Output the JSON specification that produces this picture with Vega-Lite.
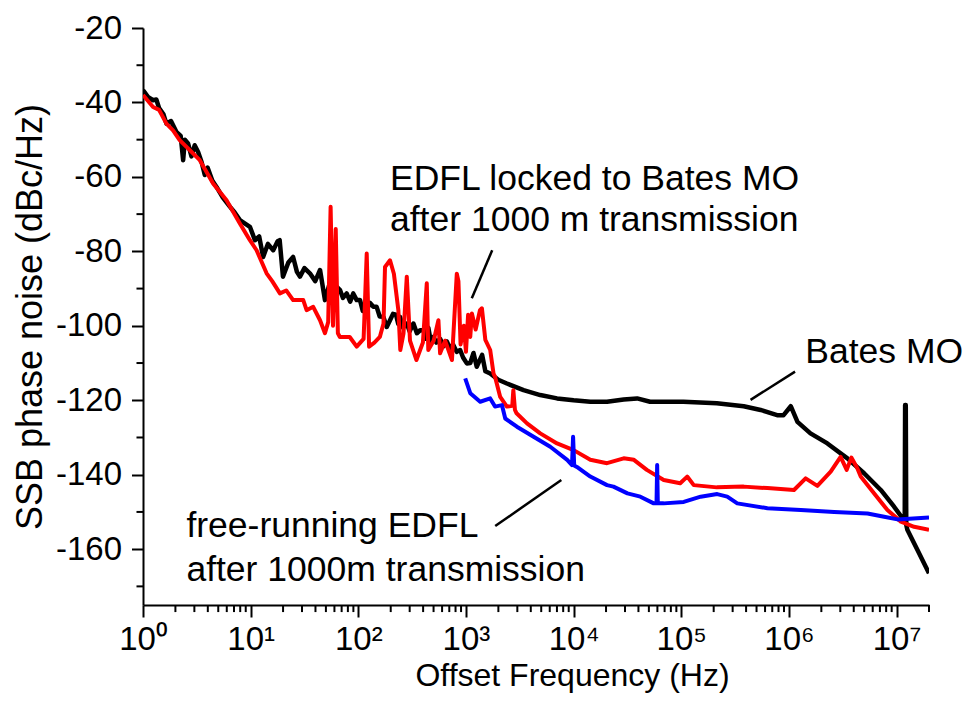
{
  "$schema": "https://vega.github.io/schema/vega-lite/v6.json",
  "width": 786,
  "height": 577,
  "autosize": {"type": "none"},
  "padding": {"left": 143, "top": 28, "right": 38, "bottom": 99},
  "background": "white",
  "config": {"view": {"stroke": null}, "font": "Liberation Sans"},
  "datasets": {
    "curves": [
      {"series":"bates","freq":1,"noise":-36.7},{"series":"bates","freq":1.12,"noise":-38.6},{"series":"bates","freq":1.24,"noise":-39.4},{"series":"bates","freq":1.33,"noise":-39.2},{"series":"bates","freq":1.41,"noise":-41.5},{"series":"bates","freq":1.55,"noise":-43.2},{"series":"bates","freq":1.65,"noise":-45.7},{"series":"bates","freq":1.82,"noise":-45.0},{"series":"bates","freq":2.04,"noise":-47.9},{"series":"bates","freq":2.24,"noise":-49},{"series":"bates","freq":2.36,"noise":-55.5},{"series":"bates","freq":2.45,"noise":-50},{"series":"bates","freq":2.62,"noise":-51},{"series":"bates","freq":2.82,"noise":-54.5},{"series":"bates","freq":3.02,"noise":-51.5},{"series":"bates","freq":3.25,"noise":-53.3},{"series":"bates","freq":3.5,"noise":-56},{"series":"bates","freq":3.75,"noise":-59.5},{"series":"bates","freq":3.98,"noise":-57.5},{"series":"bates","freq":4.4,"noise":-61},{"series":"bates","freq":4.82,"noise":-62.7},{"series":"bates","freq":5.5,"noise":-65.5},{"series":"bates","freq":6.41,"noise":-68},{"series":"bates","freq":7.08,"noise":-69.5},{"series":"bates","freq":7.94,"noise":-71.6},{"series":"bates","freq":9.84,"noise":-73.4},{"series":"bates","freq":10.96,"noise":-77},{"series":"bates","freq":12.0,"noise":-76},{"series":"bates","freq":13.06,"noise":-81.5},{"series":"bates","freq":14.45,"noise":-78},{"series":"bates","freq":16.2,"noise":-79.7},{"series":"bates","freq":17.8,"noise":-77.3},{"series":"bates","freq":18.6,"noise":-77},{"series":"bates","freq":19.95,"noise":-86.8},{"series":"bates","freq":22.4,"noise":-83},{"series":"bates","freq":24.8,"noise":-81.5},{"series":"bates","freq":26.9,"noise":-85.5},{"series":"bates","freq":28.7,"noise":-86.8},{"series":"bates","freq":31.6,"noise":-84.5},{"series":"bates","freq":35.5,"noise":-85.9},{"series":"bates","freq":39.8,"noise":-88},{"series":"bates","freq":44.1,"noise":-85},{"series":"bates","freq":49,"noise":-93.1},{"series":"bates","freq":53.7,"noise":-89},{"series":"bates","freq":58,"noise":-91.5},{"series":"bates","freq":63.1,"noise":-89.5},{"series":"bates","freq":67.6,"noise":-90.4},{"series":"bates","freq":72,"noise":-92.5},{"series":"bates","freq":78,"noise":-91.3},{"series":"bates","freq":84,"noise":-93.5},{"series":"bates","freq":89.7,"noise":-91.3},{"series":"bates","freq":96.6,"noise":-93.1},{"series":"bates","freq":103.7,"noise":-93.1},{"series":"bates","freq":110,"noise":-96},{"series":"bates","freq":119.7,"noise":-95.8},{"series":"bates","freq":128,"noise":-93.8},{"series":"bates","freq":138,"noise":-94.9},{"series":"bates","freq":148,"noise":-94.9},{"series":"bates","freq":158,"noise":-97.5},{"series":"bates","freq":171,"noise":-97.6},{"series":"bates","freq":183.7,"noise":-100.3},{"series":"bates","freq":197,"noise":-98.5},{"series":"bates","freq":210,"noise":-96.8},{"series":"bates","freq":224,"noise":-97},{"series":"bates","freq":235,"noise":-99.5},{"series":"bates","freq":244,"noise":-97.6},{"series":"bates","freq":260,"noise":-100.5},{"series":"bates","freq":282,"noise":-99.4},{"series":"bates","freq":300,"noise":-101.5},{"series":"bates","freq":325,"noise":-99.4},{"series":"bates","freq":350,"noise":-102},{"series":"bates","freq":375,"noise":-101.2},{"series":"bates","freq":403,"noise":-101.2},{"series":"bates","freq":420,"noise":-103.5},{"series":"bates","freq":447,"noise":-100.5},{"series":"bates","freq":470,"noise":-104},{"series":"bates","freq":499,"noise":-103},{"series":"bates","freq":530,"noise":-104.5},{"series":"bates","freq":575,"noise":-103.5},{"series":"bates","freq":620,"noise":-105.5},{"series":"bates","freq":664,"noise":-104.2},{"series":"bates","freq":710,"noise":-106},{"series":"bates","freq":759,"noise":-105},{"series":"bates","freq":820,"noise":-107},{"series":"bates","freq":883,"noise":-106.5},{"series":"bates","freq":940,"noise":-108.5},{"series":"bates","freq":1019,"noise":-110.1},{"series":"bates","freq":1096,"noise":-110},{"series":"bates","freq":1175,"noise":-107.3},{"series":"bates","freq":1259,"noise":-111},{"series":"bates","freq":1413,"noise":-107.8},{"series":"bates","freq":1514,"noise":-112.2},{"series":"bates","freq":1679,"noise":-112.8},{"series":"bates","freq":1995,"noise":-114.5},{"series":"bates","freq":2399,"noise":-115.5},{"series":"bates","freq":3428,"noise":-117.3},{"series":"bates","freq":4898,"noise":-118.6},{"series":"bates","freq":7015,"noise":-119.5},{"series":"bates","freq":10000,"noise":-120},{"series":"bates","freq":14290,"noise":-120.4},{"series":"bates","freq":20420,"noise":-120.4},{"series":"bates","freq":29170,"noise":-119.8},{"series":"bates","freq":38900,"noise":-119.5},{"series":"bates","freq":51290,"noise":-120.4},{"series":"bates","freq":104700,"noise":-120.4},{"series":"bates","freq":213800,"noise":-120.8},{"series":"bates","freq":380200,"noise":-121.6},{"series":"bates","freq":545800,"noise":-122.6},{"series":"bates","freq":776200,"noise":-124},{"series":"bates","freq":891300,"noise":-124},{"series":"bates","freq":1040000,"noise":-121.6},{"series":"bates","freq":1200000,"noise":-125.8},{"series":"bates","freq":1585000,"noise":-128.9},{"series":"bates","freq":2275000,"noise":-131.6},{"series":"bates","freq":3490000,"noise":-135.6},{"series":"bates","freq":4990000,"noise":-139.6},{"series":"bates","freq":7130000,"noise":-144.1},{"series":"bates","freq":9480000,"noise":-148.6},{"series":"bates","freq":11350000,"noise":-151.7},{"series":"bates","freq":11900000,"noise":-152.3},{"series":"bates","freq":12000000,"noise":-121.3},{"series":"bates","freq":12170000,"noise":-121.3},{"series":"bates","freq":12300000,"noise":-153.5},{"series":"bates","freq":12590000,"noise":-154.8},{"series":"bates","freq":15630000,"noise":-160.2},{"series":"bates","freq":20000000,"noise":-166.5},

      {"series":"locked","freq":1,"noise":-38},{"series":"locked","freq":1.24,"noise":-41.2},{"series":"locked","freq":1.41,"noise":-42},{"series":"locked","freq":1.65,"noise":-45.7},{"series":"locked","freq":1.9,"noise":-47.5},{"series":"locked","freq":2.19,"noise":-50.1},{"series":"locked","freq":2.72,"noise":-52.8},{"series":"locked","freq":3.37,"noise":-55.5},{"series":"locked","freq":4.48,"noise":-61.8},{"series":"locked","freq":5.97,"noise":-66.3},{"series":"locked","freq":7.94,"noise":-72.5},{"series":"locked","freq":9.84,"noise":-77},{"series":"locked","freq":11.35,"noise":-79.7},{"series":"locked","freq":14.06,"noise":-85.9},{"series":"locked","freq":15.85,"noise":-88},{"series":"locked","freq":18.7,"noise":-91.3},{"series":"locked","freq":21.4,"noise":-90.5},{"series":"locked","freq":24.8,"noise":-93.1},{"series":"locked","freq":30.8,"noise":-93.1},{"series":"locked","freq":33.1,"noise":-95.8},{"series":"locked","freq":38.1,"noise":-94.9},{"series":"locked","freq":44.1,"noise":-98.5},{"series":"locked","freq":49,"noise":-102},{"series":"locked","freq":52.5,"noise":-99},{"series":"locked","freq":55.3,"noise":-68},{"series":"locked","freq":58.2,"noise":-100},{"series":"locked","freq":61.7,"noise":-74},{"series":"locked","freq":64.6,"noise":-102},{"series":"locked","freq":67.4,"noise":-103},{"series":"locked","freq":83.2,"noise":-103},{"series":"locked","freq":96.6,"noise":-105.6},{"series":"locked","freq":112,"noise":-103.5},{"series":"locked","freq":119.7,"noise":-80.6},{"series":"locked","freq":125.9,"noise":-105.6},{"series":"locked","freq":141,"noise":-104.5},{"series":"locked","freq":158.5,"noise":-103},{"series":"locked","freq":171.4,"noise":-99.4},{"series":"locked","freq":177,"noise":-84.2},{"series":"locked","freq":197,"noise":-82.4},{"series":"locked","freq":214,"noise":-86},{"series":"locked","freq":235.5,"noise":-95.8},{"series":"locked","freq":245.5,"noise":-106.5},{"series":"locked","freq":263,"noise":-102},{"series":"locked","freq":282,"noise":-86.8},{"series":"locked","freq":302,"noise":-104},{"series":"locked","freq":346.7,"noise":-109.2},{"series":"locked","freq":398,"noise":-104.5},{"series":"locked","freq":432.5,"noise":-88.6},{"series":"locked","freq":446.7,"noise":-106.5},{"series":"locked","freq":501,"noise":-104},{"series":"locked","freq":554.6,"noise":-98.5},{"series":"locked","freq":575,"noise":-107.4},{"series":"locked","freq":640,"noise":-104},{"series":"locked","freq":741,"noise":-109.2},{"series":"locked","freq":822,"noise":-86},{"series":"locked","freq":851,"noise":-88},{"series":"locked","freq":891,"noise":-105},{"series":"locked","freq":955,"noise":-100},{"series":"locked","freq":1000,"noise":-107},{"series":"locked","freq":1047,"noise":-97},{"series":"locked","freq":1096,"noise":-103},{"series":"locked","freq":1135,"noise":-96.7},{"series":"locked","freq":1230,"noise":-101},{"series":"locked","freq":1349,"noise":-95.8},{"series":"locked","freq":1406,"noise":-95.3},{"series":"locked","freq":1514,"noise":-103.8},{"series":"locked","freq":1679,"noise":-106.5},{"series":"locked","freq":1803,"noise":-112.8},{"series":"locked","freq":1862,"noise":-113.7},{"series":"locked","freq":2080,"noise":-119.1},{"series":"locked","freq":2399,"noise":-121.7},{"series":"locked","freq":2692,"noise":-121.5},{"series":"locked","freq":2754,"noise":-117.3},{"series":"locked","freq":2851,"noise":-122.6},{"series":"locked","freq":2951,"noise":-123.5},{"series":"locked","freq":3690,"noise":-126.2},{"series":"locked","freq":4898,"noise":-128.9},{"series":"locked","freq":7015,"noise":-131.6},{"series":"locked","freq":10000,"noise":-133.4},{"series":"locked","freq":14290,"noise":-136},{"series":"locked","freq":20420,"noise":-136.9},{"series":"locked","freq":29170,"noise":-135.6},{"series":"locked","freq":36300,"noise":-136},{"series":"locked","freq":47860,"noise":-138.7},{"series":"locked","freq":68710,"noise":-141.4},{"series":"locked","freq":97720,"noise":-142.3},{"series":"locked","freq":113500,"noise":-140.5},{"series":"locked","freq":130600,"noise":-142.8},{"series":"locked","freq":213800,"noise":-143.4},{"series":"locked","freq":380200,"noise":-143.2},{"series":"locked","freq":631000,"noise":-143.6},{"series":"locked","freq":1114000,"noise":-144.1},{"series":"locked","freq":1429000,"noise":-141},{"series":"locked","freq":1837000,"noise":-143},{"series":"locked","freq":2443000,"noise":-139.2},{"series":"locked","freq":3020000,"noise":-135.2},{"series":"locked","freq":3440000,"noise":-138.7},{"series":"locked","freq":3800000,"noise":-135.4},{"series":"locked","freq":4325000,"noise":-138.3},{"series":"locked","freq":4645000,"noise":-140.5},{"series":"locked","freq":6166000,"noise":-145},{"series":"locked","freq":8220000,"noise":-149.5},{"series":"locked","freq":10960000,"noise":-152.6},{"series":"locked","freq":14550000,"noise":-154},{"series":"locked","freq":20000000,"noise":-154.8},

      {"series":"free","freq":984,"noise":-114.1},{"series":"free","freq":1096,"noise":-118.1},{"series":"free","freq":1355,"noise":-120.4},{"series":"free","freq":1679,"noise":-119.5},{"series":"free","freq":1862,"noise":-121.7},{"series":"free","freq":2158,"noise":-121.3},{"series":"free","freq":2317,"noise":-124.9},{"series":"free","freq":2972,"noise":-127.1},{"series":"free","freq":4246,"noise":-129.8},{"series":"free","freq":6067,"noise":-132.5},{"series":"free","freq":8710,"noise":-136},{"series":"free","freq":9660,"noise":-137.4},{"series":"free","freq":9886,"noise":-129.8},{"series":"free","freq":10120,"noise":-137.5},{"series":"free","freq":10720,"noise":-137.9},{"series":"free","freq":14290,"noise":-140.5},{"series":"free","freq":20420,"noise":-142.8},{"series":"free","freq":23440,"noise":-143.2},{"series":"free","freq":31620,"noise":-145},{"series":"free","freq":41690,"noise":-145.9},{"series":"free","freq":55460,"noise":-147.7},{"series":"free","freq":58900,"noise":-147.7},{"series":"free","freq":59700,"noise":-137.4},{"series":"free","freq":60540,"noise":-147.7},{"series":"free","freq":68710,"noise":-147.7},{"series":"free","freq":105400,"noise":-147.3},{"series":"free","freq":151400,"noise":-145.9},{"series":"free","freq":215800,"noise":-145.2},{"series":"free","freq":267300,"noise":-145.9},{"series":"free","freq":331100,"noise":-147.7},{"series":"free","freq":631000,"noise":-149},{"series":"free","freq":1288000,"noise":-149.5},{"series":"free","freq":2630000,"noise":-150},{"series":"free","freq":5370000,"noise":-150.4},{"series":"free","freq":7660000,"noise":-151.3},{"series":"free","freq":10190000,"noise":-152},{"series":"free","freq":20000000,"noise":-151.5}
    ],
    "notes": [
      {"label":"EDFL locked to Bates MO","freq":197,"noise":-63.4},
      {"label":"after 1000 m transmission","freq":197,"noise":-74.6},
      {"label":"Bates MO","freq":1420000,"noise":-109.9},
      {"label":"free-running EDFL","freq":2.53,"noise":-156.6},
      {"label":"after 1000m transmission","freq":2.53,"noise":-168.5}
    ],
    "leaders": [
      {"f1":1133,"v1":-92.6,"f2":1753,"v2":-79.7},
      {"f1":440000,"v1":-119.9,"f2":1140000,"v2":-112.3},
      {"f1":1870,"v1":-153.8,"f2":7690,"v2":-141.4}
    ],
    "xminor": [
      {"freq":2},{"freq":3},{"freq":4},{"freq":5},{"freq":6},{"freq":7},{"freq":8},{"freq":9},
      {"freq":20},{"freq":30},{"freq":40},{"freq":50},{"freq":60},{"freq":70},{"freq":80},{"freq":90},
      {"freq":200},{"freq":300},{"freq":400},{"freq":500},{"freq":600},{"freq":700},{"freq":800},{"freq":900},
      {"freq":2000},{"freq":3000},{"freq":4000},{"freq":5000},{"freq":6000},{"freq":7000},{"freq":8000},{"freq":9000},
      {"freq":20000},{"freq":30000},{"freq":40000},{"freq":50000},{"freq":60000},{"freq":70000},{"freq":80000},{"freq":90000},
      {"freq":200000},{"freq":300000},{"freq":400000},{"freq":500000},{"freq":600000},{"freq":700000},{"freq":800000},{"freq":900000},
      {"freq":2000000},{"freq":3000000},{"freq":4000000},{"freq":5000000},{"freq":6000000},{"freq":7000000},{"freq":8000000},{"freq":9000000},
      {"freq":20000000}
    ],
    "yminor": [
      {"noise":-170},{"noise":-150},{"noise":-130},{"noise":-110},{"noise":-90},{"noise":-70},{"noise":-50},{"noise":-30}
    ]
  },
  "layer": [
    {
      "data": {"name": "curves"},
      "transform": [{"filter": "datum.series === 'bates'"}],
      "mark": {"type": "line", "color": "#000000", "strokeWidth": 4.5, "strokeJoin": "round", "clip": true},
      "encoding": {
        "x": {
          "field": "freq", "type": "quantitative",
          "scale": {"type": "log", "domain": [1, 20000000], "nice": false},
          "axis": {
            "title": "Offset Frequency (Hz)",
            "values": [1,10,100,1000,10000,100000,1000000,10000000],
            "labelExpr": "'10' + ['⁰','¹','²','³','⁴','⁵','⁶','⁷'][round(log(datum.value)/LN10)]",
            "tickSize": 12,
            "grid": false, "labelOverlap": false, "labelFlush": false,
            "domainColor": "#000000", "domainWidth": 2, "tickColor": "#000000", "tickWidth": 2,
            "labelFontSize": 33, "labelColor": "#000000", "labelPadding": 6, "labelFont": "Liberation Sans",
            "titleFontSize": 32, "titleFontWeight": "normal", "titleColor": "#000000", "titleFont": "Liberation Sans",
            "titleX": 429, "titleAlign": "center", "titlePadding": 4
          }
        },
        "y": {
          "field": "noise", "type": "quantitative",
          "scale": {"domain": [-175, -20], "nice": false, "zero": false},
          "axis": {
            "title": "SSB phase noise (dBc/Hz)",
            "values": [-160,-140,-120,-100,-80,-60,-40,-20],
            "labelExpr": "'-' + abs(datum.value)",
            "tickSize": 11.5,
            "grid": false, "labelOverlap": false, "labelFlush": false,
            "domainColor": "#000000", "domainWidth": 2, "tickColor": "#000000", "tickWidth": 2,
            "labelFontSize": 33, "labelColor": "#000000", "labelPadding": 10, "labelFont": "Liberation Sans",
            "titleFontSize": 36, "titleFontWeight": "normal", "titleColor": "#000000", "titleFont": "Liberation Sans",
            "titlePadding": 6
          }
        }
      }
    },
    {
      "data": {"name": "curves"},
      "transform": [{"filter": "datum.series === 'locked'"}],
      "mark": {"type": "line", "color": "#ff0000", "strokeWidth": 4, "strokeJoin": "round", "clip": true},
      "encoding": {
        "x": {"field": "freq", "type": "quantitative"},
        "y": {"field": "noise", "type": "quantitative"}
      }
    },
    {
      "data": {"name": "curves"},
      "transform": [{"filter": "datum.series === 'free'"}],
      "mark": {"type": "line", "color": "#0000ff", "strokeWidth": 4, "strokeJoin": "round", "clip": true},
      "encoding": {
        "x": {"field": "freq", "type": "quantitative"},
        "y": {"field": "noise", "type": "quantitative"}
      }
    },
    {
      "data": {"name": "xminor"},
      "mark": {"type": "rule", "color": "#000000", "strokeWidth": 2, "clip": false},
      "encoding": {
        "x": {"field": "freq", "type": "quantitative"},
        "y": {"datum": -175},
        "y2": {"datum": -176.9}
      }
    },
    {
      "data": {"name": "yminor"},
      "mark": {"type": "rule", "color": "#000000", "strokeWidth": 2, "clip": false},
      "encoding": {
        "y": {"field": "noise", "type": "quantitative"},
        "x": {"datum": 0.87},
        "x2": {"datum": 1}
      }
    },
    {
      "data": {"name": "leaders"},
      "mark": {"type": "rule", "color": "#000000", "strokeWidth": 2.5},
      "encoding": {
        "x": {"field": "f1", "type": "quantitative"},
        "x2": {"field": "f2"},
        "y": {"field": "v1", "type": "quantitative"},
        "y2": {"field": "v2"}
      }
    },
    {
      "data": {"name": "notes"},
      "mark": {"type": "text", "align": "left", "baseline": "alphabetic", "fontSize": 35.5, "font": "Liberation Sans", "color": "#000000"},
      "encoding": {
        "x": {"field": "freq", "type": "quantitative"},
        "y": {"field": "noise", "type": "quantitative"},
        "text": {"field": "label"}
      }
    }
  ]
}
